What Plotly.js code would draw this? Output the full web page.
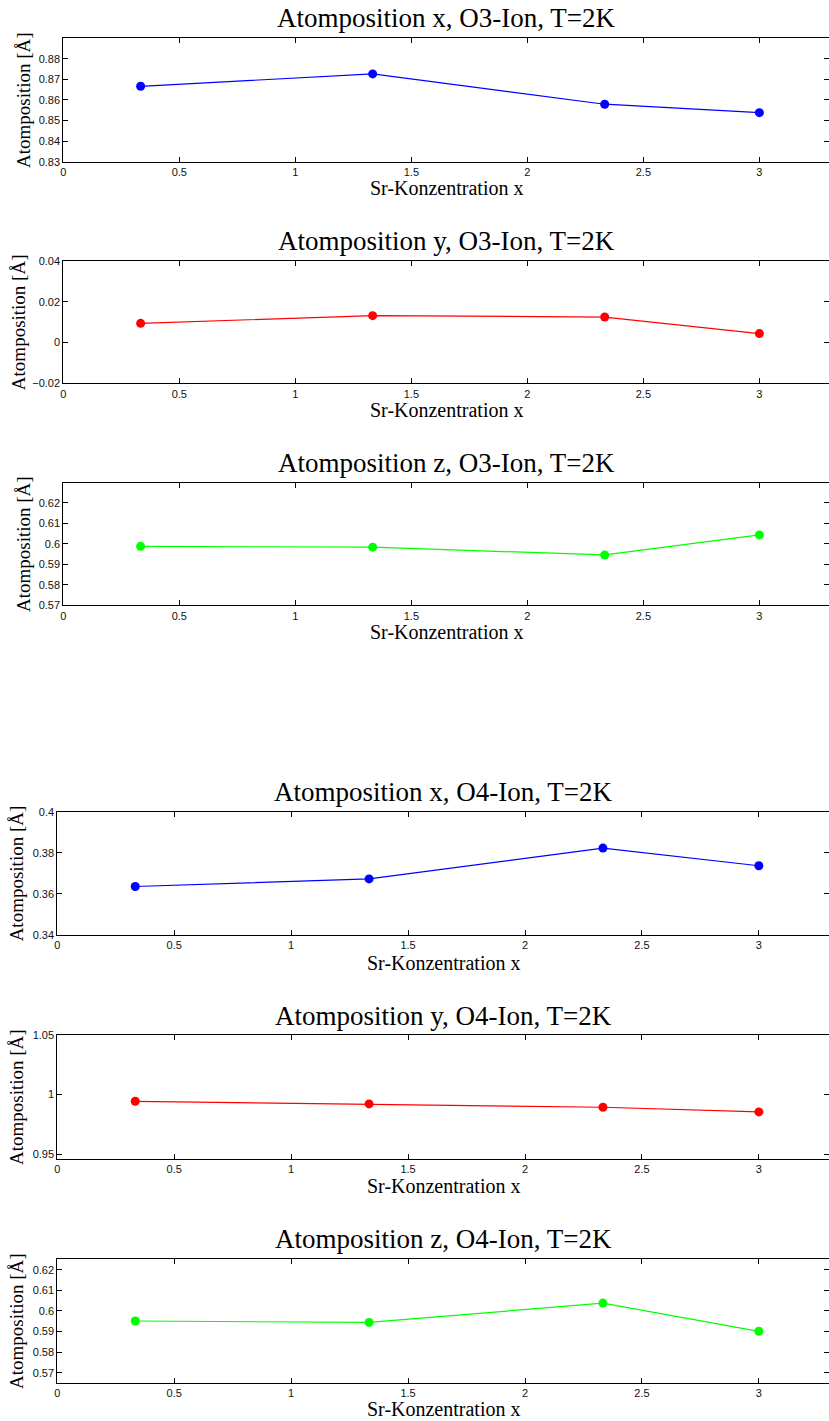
<!DOCTYPE html>
<html>
<head>
<meta charset="utf-8">
<script src="https://cdn.plot.ly/plotly-3.0.1.min.js"></script>
<style>
  html, body { margin: 0; padding: 0; overflow: hidden; background: #fff; }
  #chart { width: 829px; height: 1421px; }
</style>
</head>
<body>
<div id="chart"></div>
<script>
// Sr concentration (x axis) shared by all six panels
const srConc = [0.3333, 1.3333, 2.3333, 3];

// Atom positions of the O3 and O4 ions at T = 2 K
const o3x = [0.8666, 0.8726, 0.8579, 0.8538];
const o3y = [0.0094, 0.0132, 0.0125, 0.0044];
const o3z = [0.5988, 0.5984, 0.5946, 0.6044];
const o4x = [0.3636, 0.3673, 0.3823, 0.3737];
const o4y = [0.9944, 0.9922, 0.9894, 0.9855];
const o4z = [0.5951, 0.5944, 0.6038, 0.5901];

// Panel titles
const panelTitles = [
  'Atomposition x, O3-Ion, T=2K',
  'Atomposition y, O3-Ion, T=2K',
  'Atomposition z, O3-Ion, T=2K',
  'Atomposition x, O4-Ion, T=2K',
  'Atomposition y, O4-Ion, T=2K',
  'Atomposition z, O4-Ion, T=2K'
];

// Tick values and labels
const xTickVals = [0, 0.5, 1, 1.5, 2, 2.5, 3];
const xTickText = ['0', '0.5', '1', '1.5', '2', '2.5', '3'];
const yTickVals = [
  [0.83, 0.84, 0.85, 0.86, 0.87, 0.88],
  [-0.02, 0, 0.02, 0.04],
  [0.57, 0.58, 0.59, 0.6, 0.61, 0.62],
  [0.34, 0.36, 0.38, 0.4],
  [0.95, 1, 1.05],
  [0.57, 0.58, 0.59, 0.6, 0.61, 0.62]
];
const yTickText = [
  ['0.83', '0.84', '0.85', '0.86', '0.87', '0.88'],
  ['\u22120.02', '0', '0.02', '0.04'],
  ['0.57', '0.58', '0.59', '0.6', '0.61', '0.62'],
  ['0.34', '0.36', '0.38', '0.4'],
  ['0.95', '1', '1.05'],
  ['0.57', '0.58', '0.59', '0.6', '0.61', '0.62']
];
const yRanges = [
  [0.83, 0.8899],
  [-0.02, 0.04],
  [0.57, 0.6299],
  [0.34, 0.4],
  [0.946, 1.05],
  [0.565, 0.6252]
];

const series = [o3x, o3y, o3z, o4x, o4y, o4z];
const colors = ['#0000ff', '#ff0000', '#00ff00', '#0000ff', '#ff0000', '#00ff00'];

// Layout geometry in pixels
const W = 829, H = 1421;
const boxes = [
  { left: 63.3, top: 38.3, bottom: 161.7, ylabX: 23, titleY: 18, xlabY: 188 },
  { left: 63.3, top: 261,  bottom: 383.3, ylabX: 18, titleY: 241, xlabY: 410 },
  { left: 63.3, top: 482.7, bottom: 605.3, ylabX: 23, titleY: 463, xlabY: 632 },
  { left: 57.3, top: 811.7, bottom: 935,  ylabX: 16, titleY: 792, xlabY: 963 },
  { left: 57.3, top: 1035, bottom: 1159, ylabX: 16, titleY: 1016, xlabY: 1186 },
  { left: 57.3, top: 1259, bottom: 1383, ylabX: 16, titleY: 1239, xlabY: 1409 }
];

const serif = 'Liberation Serif, Times New Roman, serif';
const sans = 'Liberation Sans, Arial, Helvetica, sans-serif';

const traces = [];
const layout = {
  width: W,
  height: H,
  margin: { l: 0, r: 0, t: 0, b: 0 },
  paper_bgcolor: '#ffffff',
  plot_bgcolor: '#ffffff',
  showlegend: false,
  annotations: []
};

boxes.forEach((b, i) => {
  const n = i + 1;
  const xa = n === 1 ? 'x' : 'x' + n;
  const ya = n === 1 ? 'y' : 'y' + n;
  const xKey = n === 1 ? 'xaxis' : 'xaxis' + n;
  const yKey = n === 1 ? 'yaxis' : 'yaxis' + n;

  traces.push({
    x: srConc,
    y: series[i],
    xaxis: xa,
    yaxis: ya,
    type: 'scatter',
    mode: 'lines+markers',
    line: { color: colors[i], width: 1.2 },
    marker: { color: colors[i], size: 9 },
    cliponaxis: false,
    hoverinfo: 'x+y'
  });

  const axisCommon = {
    showline: true,
    linecolor: '#000',
    linewidth: 1,
    mirror: 'ticks',
    ticks: 'inside',
    ticklen: 5,
    tickwidth: 1,
    tickcolor: '#000',
    showgrid: false,
    zeroline: false,
    tickfont: { family: sans, size: 11, color: '#111' }
  };

  layout[xKey] = Object.assign({}, axisCommon, {
    domain: [b.left / W, 1],
    range: [0, 3.3],
    tickmode: 'array',
    tickvals: xTickVals,
    ticktext: xTickText,
    anchor: ya
  });
  layout[yKey] = Object.assign({}, axisCommon, {
    domain: [1 - b.bottom / H, 1 - b.top / H],
    range: yRanges[i],
    tickmode: 'array',
    tickvals: yTickVals[i],
    ticktext: yTickText[i],
    anchor: xa
  });

  const cx = (b.left + W) / 2 / W;
  // Panel title
  layout.annotations.push({
    text: panelTitles[i],
    xref: 'paper', yref: 'paper',
    x: cx, y: 1 - b.titleY / H,
    xanchor: 'center', yanchor: 'middle',
    showarrow: false,
    borderpad: 0,
    font: { family: serif, size: 27, color: '#000' }
  });
  // x-axis label
  layout.annotations.push({
    text: 'Sr-Konzentration x',
    xref: 'paper', yref: 'paper',
    x: cx, y: 1 - b.xlabY / H,
    xanchor: 'center', yanchor: 'middle',
    showarrow: false,
    borderpad: 0,
    font: { family: serif, size: 20, color: '#000' }
  });
  // y-axis label
  layout.annotations.push({
    text: 'Atomposition [\u00c5]',
    xref: 'paper', yref: 'paper',
    x: b.ylabX / W, y: 1 - (b.top + b.bottom) / 2 / H,
    xanchor: 'center', yanchor: 'middle',
    textangle: -90,
    showarrow: false,
    borderpad: 0,
    font: { family: serif, size: 19, color: '#000' }
  });
});

Plotly.newPlot('chart', traces, layout, { displayModeBar: false, staticPlot: true });
</script>
</body>
</html>
